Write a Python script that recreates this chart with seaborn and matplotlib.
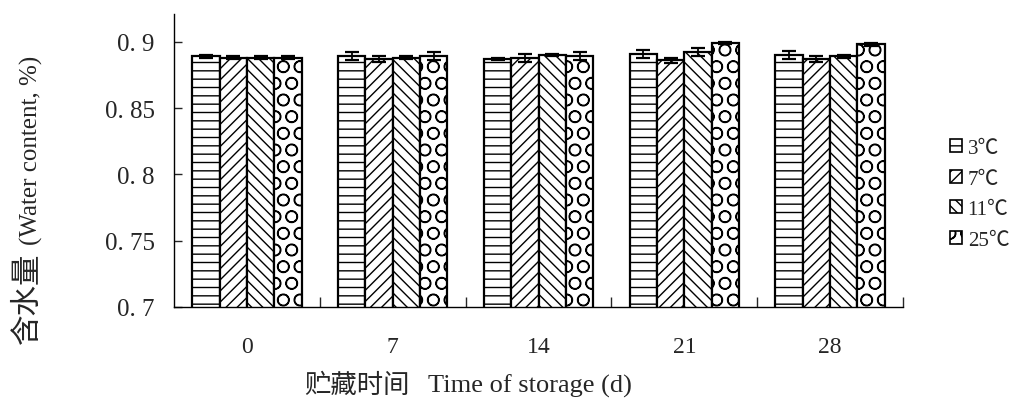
import matplotlib
matplotlib.use("Agg")
import matplotlib.pyplot as plt
import seaborn as sns
import pandas as pd
import numpy as np
from matplotlib.patches import Patch
from matplotlib.ticker import FixedLocator

# ---- data ----
days = ["0", "7", "14", "21", "28"]
temps = ["3℃", "7℃", "11℃", "25℃"]
wc_3 = [0.889, 0.889, 0.887, 0.891, 0.890]
wc_7 = [0.888, 0.887, 0.888, 0.886, 0.887]
wc_11 = [0.888, 0.888, 0.890, 0.892, 0.889]
wc_25 = [0.888, 0.889, 0.889, 0.899, 0.898]
err_3 = [0.001, 0.003, 0.001, 0.003, 0.003]
err_7 = [0.001, 0.002, 0.003, 0.002, 0.002]
err_11 = [0.001, 0.001, 0.001, 0.003, 0.001]
err_25 = [0.001, 0.003, 0.003, 0.001, 0.001]
yticks = [0.7, 0.75, 0.8, 0.85, 0.9]
ytick_labels = ["0. 7", "0. 75", "0. 8", "0. 85", "0. 9"]

values = [wc_3, wc_7, wc_11, wc_25]
errors = [err_3, err_7, err_11, err_25]
hatches = ["--", "///", "\\\\\\", "O"]

rows = []
for t, vals in zip(temps, values):
    for d, v in zip(days, vals):
        rows.append({"day": d, "temp": t, "wc": v})
df = pd.DataFrame(rows)

sns.set_theme(style="ticks")
plt.rcParams["font.family"] = ["Liberation Serif", "Noto Sans CJK SC"]
plt.rcParams["hatch.linewidth"] = 1.0

fig = plt.figure(figsize=(10.16, 4.10), dpi=100)
ax = fig.add_axes([0.1713, 0.2488, 0.7175, 0.7146])

sns.barplot(data=df, x="day", y="wc", hue="temp", order=days, hue_order=temps,
            palette=["white"] * 4, edgecolor="black", linewidth=1.6,
            width=0.75, errorbar=None, legend=False, ax=ax)

for cont, h, errs in zip(ax.containers, hatches, errors):
    xs, hs = [], []
    for bar in cont:
        bar.set_hatch(h)
        bar.set_edgecolor("black")
        xs.append(bar.get_x() + bar.get_width() / 2)
        hs.append(bar.get_height())
    ax.errorbar(xs, hs, yerr=errs, fmt="none", ecolor="black",
                elinewidth=1.3, capsize=5, capthick=1.6, zorder=5)

ax.set_ylim(0.7, 0.921)
ax.set_xlim(-0.5, 4.5)
ax.set_yticks(yticks)
ax.set_yticklabels(ytick_labels, fontsize=18)
ax.tick_params(axis="y", direction="in", length=6, width=1, pad=14)
ax.tick_params(axis="x", which="major", length=0, labelsize=17, pad=21)
ax.xaxis.set_minor_locator(FixedLocator([0.5, 1.5, 2.5, 3.5, 4.5]))
ax.tick_params(axis="x", which="minor", direction="in", length=7, width=1)

sns.despine(ax=ax, top=True, right=True)
for s in ["left", "bottom"]:
    ax.spines[s].set_linewidth(1.0)
    ax.spines[s].set_color("black")

ax.set_xlabel("")
ax.set_ylabel("")
# x axis title
fig.text(0.351, 0.058, "贮藏时间", ha="center", va="center", fontsize=19)
fig.text(0.522, 0.058, "Time of storage (d)", ha="center", va="center", fontsize=19)
# y axis title
fig.text(0.028, 0.273, "含水量", ha="center", va="center", rotation=90, fontsize=22)
fig.text(0.031, 0.634, "(Water content, %)", ha="center", va="center",
         rotation=90, fontsize=18)

handles = [Patch(facecolor="white", edgecolor="black", hatch=h, linewidth=1.2)
           for h in hatches]
fig.legend(handles, temps, loc="upper left", bbox_to_anchor=(0.935, 0.658),
           frameon=False, fontsize=15, handlelength=0.6, handleheight=0.6,
           handletextpad=0.25, labelspacing=0.55, borderpad=0, borderaxespad=0)

fig.savefig("out.png", dpi=100)
